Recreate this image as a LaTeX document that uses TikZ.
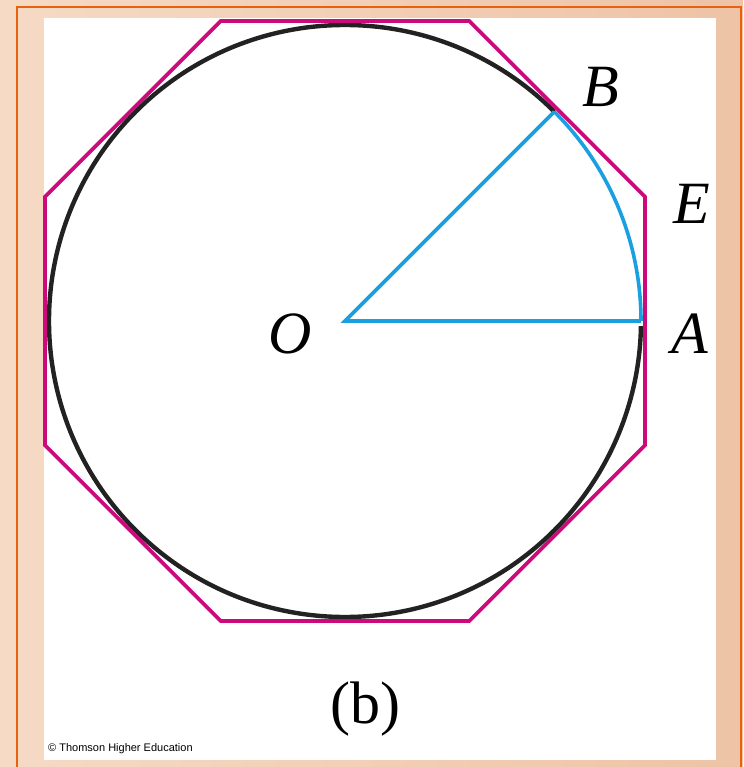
\documentclass[tikz,border=0pt]{standalone}
\usepackage{fontspec}
\setmainfont{Liberation Serif}
\newfontfamily\credfont{Liberation Sans}
\definecolor{peach}{HTML}{F6DAC5}
\definecolor{peachdark}{HTML}{EEC3A6}
\definecolor{frameorange}{HTML}{E8620E}
\definecolor{octmagenta}{HTML}{CC0A7C}
\definecolor{arcblue}{HTML}{1AA0E0}
\definecolor{circblack}{HTML}{222222}
\begin{document}
\begin{tikzpicture}[x=1pt,y=1pt,
  octline/.style={draw=octmagenta,line width=3.6pt,line join=miter},
  circline/.style={draw=circblack,line width=4.4pt},
  blueline/.style={draw=arcblue,line width=3.6pt,line join=miter},
  ptlabel/.style={font=\fontsize{60}{62}\selectfont\itshape,inner sep=0pt},
  caplabel/.style={font=\fontsize{60}{62}\selectfont,inner sep=0pt},
  credit/.style={font=\credfont\fontsize{11}{13}\selectfont,inner sep=0pt,anchor=base west}]
% background
\useasboundingbox (-345,-446) rectangle (398,321);
\shade[left color=peach,right color=peachdark] (-345,-446) rectangle (398,321);
\draw[frameorange,line width=2.2pt] (-328,-446) -- (-328,314) -- (396,314) -- (396,-446);
\fill[white] (-301,-439) rectangle (371,303);
% geometry
\coordinate (O) at (0,0);
\coordinate (A) at (0:296);
\coordinate (B) at (45:296);
% black circle (except arc AB)
\draw[circline] (45:296) arc[start angle=45,end angle=359,radius=296];
% octagon
\draw[octline] (22.5:324.7) -- (67.5:324.7) -- (112.5:324.7) -- (157.5:324.7)
  -- (202.5:324.7) -- (247.5:324.7) -- (292.5:324.7) -- (337.5:324.7) -- cycle;
% blue sector
\draw[blueline] (A) -- (O) -- (B);
\draw[blueline] (A) arc[start angle=0,end angle=45,radius=296];
% labels
\node[ptlabel] (lO) at (-55,-13) {O};
\node[ptlabel] (lA) at (345,-13) {A};
\node[ptlabel] (lE) at (347,117) {E};
\node[ptlabel] (lB) at (256,234) {B};
\node[caplabel] (lb) at (20,-388) {(b)};
\node[credit] (cr) at (-297,-430) {© Thomson Higher Education};
\end{tikzpicture}
\end{document}
